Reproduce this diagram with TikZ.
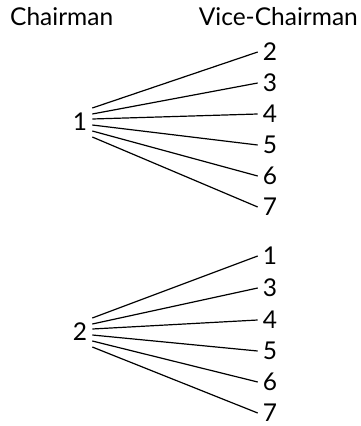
\documentclass[tikz,border=0pt]{standalone}
\usepackage{fontspec}
\setmainfont{Lato}
\usepackage{tikz}
\usetikzlibrary{positioning}

\begin{document}
\begin{tikzpicture}[x=1pt, y=-1pt,
    head/.style={font=\fontsize{24.5}{28}\selectfont, inner sep=0pt},
    num/.style={font=\fontsize{24.5}{28}\selectfont, inner xsep=5pt, inner ysep=0pt},
    tie/.style={line width=1.2pt, draw=black}
]
    \useasboundingbox (0,0) rectangle (361,426);

    \node[head, anchor=base west] (chair) at (10, 25) {Chairman};
    \node[head, anchor=base east] (vice) at (358, 25) {Vice-Chairman};

    % first chairman
    \node[num] (c1) at (80, 122) {1};
    \node[num] (v12) at (270, 52) {2};
    \node[num] (v13) at (270, 83) {3};
    \node[num] (v14) at (270, 114) {4};
    \node[num] (v15) at (270, 145) {5};
    \node[num] (v16) at (270, 176) {6};
    \node[num] (v17) at (270, 207) {7};

    \draw[tie] ([yshift=14pt]c1.east) -- (v12.west);
    \draw[tie] ([yshift=8pt]c1.east) -- (v13.west);
    \draw[tie] ([yshift=3pt]c1.east) -- (v14.west);
    \draw[tie] ([yshift=-3pt]c1.east) -- (v15.west);
    \draw[tie] ([yshift=-9pt]c1.east) -- (v16.west);
    \draw[tie] ([yshift=-15pt]c1.east) -- (v17.west);

    % second chairman
    \node[num] (c2) at (80, 332) {2};
    \node[num] (v21) at (270, 256) {1};
    \node[num] (v23) at (270, 288) {3};
    \node[num] (v24) at (270, 320) {4};
    \node[num] (v25) at (270, 351) {5};
    \node[num] (v26) at (270, 382) {6};
    \node[num] (v27) at (270, 413) {7};

    \draw[tie] ([yshift=14pt]c2.east) -- (v21.west);
    \draw[tie] ([yshift=8pt]c2.east) -- (v23.west);
    \draw[tie] ([yshift=3pt]c2.east) -- (v24.west);
    \draw[tie] ([yshift=-3pt]c2.east) -- (v25.west);
    \draw[tie] ([yshift=-9pt]c2.east) -- (v26.west);
    \draw[tie] ([yshift=-15pt]c2.east) -- (v27.west);
\end{tikzpicture}
\end{document}
